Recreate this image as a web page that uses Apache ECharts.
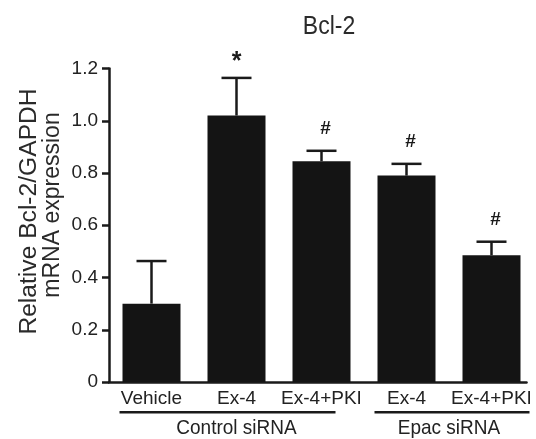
<!DOCTYPE html>
<html>
<head>
<meta charset="utf-8">
<script src="https://cdn.jsdelivr.net/npm/echarts@6/dist/echarts.min.js"></script>
<style>
html,body{margin:0;padding:0;background:#fff;}
#chart{width:536px;height:439px;}
</style>
</head>
<body>
<div id="chart"></div>
<script>
const categories = ['Vehicle', 'Ex-4', 'Ex-4+PKI', 'Ex-4', 'Ex-4+PKI'];
const means = [0.30, 1.02, 0.845, 0.79, 0.485];
const upperErr = [0.463, 1.164, 0.885, 0.835, 0.537];
const marks = ['', '*', '#', '#', '#'];
const groupNames = ['Control siRNA', 'Epac siRNA'];
const groupFrom = [0, 3];
const groupTo = [2, 4];
const yTicks = [0, 0.2, 0.4, 0.6, 0.8, 1.0, 1.2];
const titleText = 'Bcl-2';
const yLabelLines = ['Relative Bcl-2/GAPDH', 'mRNA expression'];

const FONT = '"Liberation Sans", Arial, Helvetica, sans-serif';
const INK = '#1a1a1a';

const chart = echarts.init(document.getElementById('chart'), null, {renderer: 'canvas'});

const option = {
  animation: false,
  backgroundColor: '#fff',
  textStyle: {fontFamily: FONT},
  grid: [
    {left: 109, right: 2, top: 68.5, bottom: 57, containLabel: false},
    {left: 109, right: 9.5, top: 68.5, bottom: 57, containLabel: false}
  ],
  xAxis: [
    {
      type: 'category', gridIndex: 0, data: categories, boundaryGap: true,
      axisLine: {show: false}, axisTick: {show: false},
      axisLabel: {fontSize: 19, color: '#222', margin: 7, fontFamily: FONT, interval: 0}
    },
    {
      type: 'value', gridIndex: 1, min: 0, max: 1,
      axisLine: {show: true, onZero: false, lineStyle: {color: INK, width: 2.5}},
      axisTick: {show: false}, axisLabel: {show: false}, splitLine: {show: false}
    }
  ],
  yAxis: [
    {
      type: 'value', gridIndex: 0, min: yTicks[0], max: yTicks[yTicks.length - 1], interval: 0.2,
      axisLine: {show: true, lineStyle: {color: INK, width: 2.5}},
      axisTick: {show: true, length: 7, lineStyle: {color: INK, width: 2.5}},
      axisLabel: {
        fontSize: 19, color: '#222', margin: 11, fontFamily: FONT,
        formatter: function (v) {
          const t = yTicks.find(function (y) { return Math.abs(y - v) < 1e-6; });
          return t === 0 ? '0' : (t !== undefined ? t.toFixed(1) : '');
        }
      },
      splitLine: {show: false}
    },
    {type: 'value', gridIndex: 1, min: 0, max: 1, show: false}
  ],
  series: [
    {
      type: 'bar', xAxisIndex: 0, yAxisIndex: 0,
      data: means, barWidth: 58,
      itemStyle: {color: '#141414'},
      z: 2
    },
    {
      type: 'custom', xAxisIndex: 0, yAxisIndex: 0,
      data: means.map(function (m, i) { return [i, upperErr[i], m]; }),
      renderItem: function (params, api) {
        const i = api.value(0);
        const top = api.coord([i, api.value(1)]);
        const base = api.coord([i, api.value(2)]);
        const half = 15;
        const children = [
          {type: 'line', shape: {x1: top[0], y1: base[1], x2: top[0], y2: top[1]},
           style: {stroke: INK, lineWidth: 2.5}},
          {type: 'line', shape: {x1: top[0] - half, y1: top[1], x2: top[0] + half, y2: top[1]},
           style: {stroke: INK, lineWidth: 2.5}}
        ];
        const mk = marks[i];
        if (mk) {
          const isStar = mk === '*';
          children.push({
            type: 'text',
            style: {
              text: mk, x: top[0] + (isStar ? 0 : 4), y: top[1] - (isStar ? 16 : 22),
              align: 'center', verticalAlign: 'middle',
              font: 'bold ' + (isStar ? 25 : 19) + 'px ' + FONT, fill: INK
            }
          });
        }
        return {type: 'group', children: children};
      },
      z: 3
    }
  ]
};

chart.setOption(option);

const graphics = [];
graphics.push({
  type: 'text', x: 329, y: 26.5, scaleY: 1.12,
  style: {text: titleText, align: 'center', verticalAlign: 'middle', font: '23px ' + FONT, fill: '#2a2a2a'}
});
graphics.push({
  type: 'text', x: 29.5, y: 211.5, rotation: Math.PI / 2, scaleX: 1.07,
  style: {text: yLabelLines[0], align: 'center', verticalAlign: 'middle', font: '23px ' + FONT, fill: '#2a2a2a'}
});
graphics.push({
  type: 'text', x: 52.5, y: 205, rotation: Math.PI / 2,
  style: {text: yLabelLines[1], align: 'center', verticalAlign: 'middle', font: '23px ' + FONT, fill: '#2a2a2a'}
});

const rightExt = [14, 38];
groupNames.forEach(function (name, g) {
  const c0 = chart.convertToPixel({xAxisIndex: 0}, groupFrom[g]);
  const c1 = chart.convertToPixel({xAxisIndex: 0}, groupTo[g]);
  const yLine = 412.3;
  graphics.push({
    type: 'line', shape: {x1: c0 - 32, y1: yLine, x2: c1 + rightExt[g], y2: yLine},
    style: {stroke: INK, lineWidth: 2.5}
  });
  graphics.push({
    type: 'text', x: (c0 + c1) / 2, y: 428, scaleY: 1.1,
    style: {text: name, align: 'center', verticalAlign: 'middle', font: '19px ' + FONT, fill: '#222'}
  });
});

chart.setOption({graphic: graphics});
</script>
</body>
</html>
